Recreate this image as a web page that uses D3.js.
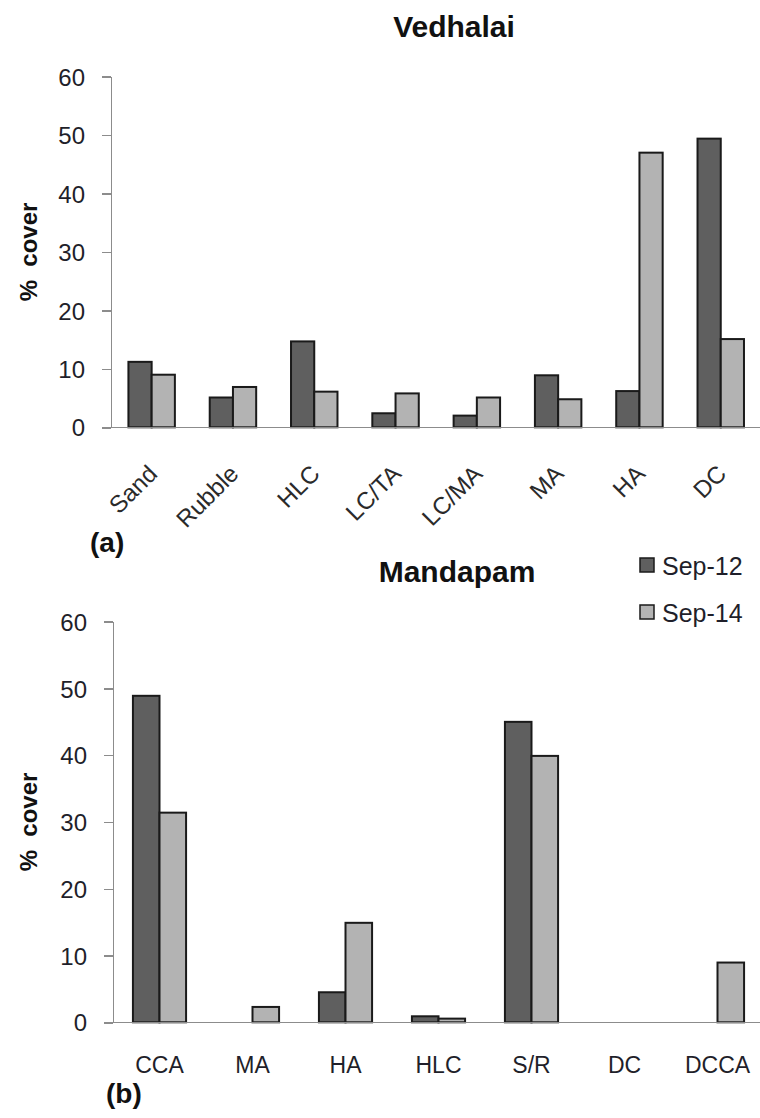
<!DOCTYPE html>
<meta charset="utf-8">
<script src="https://d3js.org/d3.v7.min.js"></script>
<style>
body {
  margin: 0;
  background: #fff;
  font-family: "Liberation Sans", Arial, sans-serif;
}
.axis path, .axis line {
  stroke: #8c8c8c;
  stroke-width: 1.5;
  shape-rendering: crispEdges;
}
.axis text {
  fill: #1f1f2a;
}
.bar {
  stroke: #1a1a1a;
  stroke-width: 2;
}
</style>
<body>
<script>

// series and colours
var series = ["Sep-12", "Sep-14"];
var seriesColors = ["#5f5f5f", "#b3b3b3"];

// (a) Vedhalai
var vedCats = ["Sand", "Rubble", "HLC", "LC/TA", "LC/MA", "MA", "HA", "DC"];
var vedSep12 = [11.2, 5.1, 14.7, 2.4, 2.0, 8.9, 6.2, 49.4];
var vedSep14 = [9.0, 6.9, 6.1, 5.8, 5.1, 4.8, 47.0, 15.1];

// (b) Mandapam
var manCats = ["CCA", "MA", "HA", "HLC", "S/R", "DC", "DCCA"];
var manSep12 = [48.9, 0, 4.5, 0.9, 45.0, 0, 0];
var manSep14 = [31.4, 2.3, 14.9, 0.55, 39.9, 0, 8.95];

var yTicks = [0, 10, 20, 30, 40, 50, 60];

var W = 760, H = 1118;

var svg = d3.select("body").append("svg")
    .attr("width", W)
    .attr("height", H);

function drawPanel(opt) {
  var g = svg.append("g");

  var x = d3.scaleBand().domain(opt.cats).range([opt.x0, opt.x1]);
  var xs = d3.scaleBand().domain(series).range([0, x.bandwidth()])
      .paddingInner(0).paddingOuter(0.75);
  var y = d3.scaleLinear().domain([0, 60]).range([opt.y0, opt.y1]);

  var rows = opt.cats.map(function(c, i) {
    return {cat: c, vals: [opt.s1[i], opt.s2[i]]};
  });

  // bars
  var grp = g.selectAll(".grp")
      .data(rows)
      .enter().append("g")
      .attr("class", "grp")
      .attr("transform", function(d) { return "translate(" + x(d.cat) + ",0)"; });

  grp.selectAll("rect")
      .data(function(d) {
        return d.vals.map(function(v, j) { return {s: series[j], v: v, j: j}; })
            .filter(function(e) { return e.v > 0; });
      })
      .enter().append("rect")
      .attr("class", "bar")
      .attr("x", function(e) { return xs(e.s); })
      .attr("width", xs.bandwidth())
      .attr("y", function(e) { return y(e.v); })
      .attr("height", function(e) { return y(0) - y(e.v); })
      .style("fill", function(e) { return seriesColors[e.j]; });

  // y axis
  var ya = g.append("g")
      .attr("class", "axis")
      .attr("transform", "translate(" + opt.x0 + ",0)")
      .call(d3.axisLeft(y).tickValues(yTicks).tickSize(9).tickSizeOuter(0).tickPadding(17));
  ya.selectAll("text")
      .style("font-size", "24px")
      .attr("dy", "0.36em");

  // x axis baseline
  g.append("line")
      .attr("x1", opt.x0 - 9).attr("x2", W)
      .attr("y1", y(0)).attr("y2", y(0))
      .style("stroke", "#8c8c8c")
      .style("stroke-width", 1.5)
      .style("shape-rendering", "crispEdges");

  // x labels
  var xa = g.append("g")
      .attr("class", "axis")
      .attr("transform", "translate(0," + y(0) + ")")
      .call(d3.axisBottom(x).tickSize(0).tickSizeOuter(0));
  xa.select(".domain").remove();
  if (opt.rotate) {
    xa.selectAll("text")
        .style("font-size", "24px")
        .style("fill", "#2a2a2a")
        .attr("text-anchor", "end")
        .attr("dy", null)
        .attr("y", 0)
        .attr("transform", "translate(7,48) rotate(-45)");
  } else {
    xa.selectAll("text")
        .style("font-size", "23px")
        .style("fill", "#1f1f2a")
        .attr("dy", null)
        .attr("y", 51);
  }

  // y label
  g.append("text")
      .attr("transform", "translate(37," + ((opt.y0 + opt.y1) / 2) + ") rotate(-90)")
      .attr("text-anchor", "middle")
      .style("font-weight", "bold")
      .style("font-size", "24px")
      .style("fill", "#111")
      .style("white-space", "pre")
      .text("%  cover");

  // title
  g.append("text")
      .attr("x", opt.titleX)
      .attr("y", opt.titleY)
      .attr("text-anchor", "middle")
      .style("font-weight", "bold")
      .style("font-size", "30px")
      .style("fill", "#111")
      .text(opt.title);

  // panel tag
  g.append("text")
      .attr("x", opt.tagX)
      .attr("y", opt.tagY)
      .style("font-weight", "bold")
      .style("font-size", "28px")
      .style("fill", "#111")
      .text(opt.tag);
}

drawPanel({
  cats: vedCats, s1: vedSep12, s2: vedSep14,
  x0: 111, x1: 761.4, y0: 427.3, y1: 76.7,
  rotate: true,
  title: "Vedhalai", titleX: 454, titleY: 37,
  tag: "(a)", tagX: 90, tagY: 552
});

drawPanel({
  cats: manCats, s1: manSep12, s2: manSep14,
  x0: 113, x1: 764, y0: 1022.3, y1: 621.7,
  rotate: false,
  title: "Mandapam", titleX: 457, titleY: 582,
  tag: "(b)", tagX: 106, tagY: 1103
});

// legend
var legend = svg.selectAll(".legend")
    .data(series)
    .enter().append("g")
    .attr("class", "legend")
    .attr("transform", function(d, i) { return "translate(640," + (558 + i * 47) + ")"; });

legend.append("rect")
    .attr("width", 14)
    .attr("height", 14)
    .style("fill", function(d, i) { return seriesColors[i]; })
    .style("stroke", "#1a1a1a")
    .style("stroke-width", 1.5);

legend.append("text")
    .attr("x", 22)
    .attr("y", 17)
    .style("font-size", "25px")
    .style("fill", "#1f1f2a")
    .text(String);

</script>
</body>
</html>
